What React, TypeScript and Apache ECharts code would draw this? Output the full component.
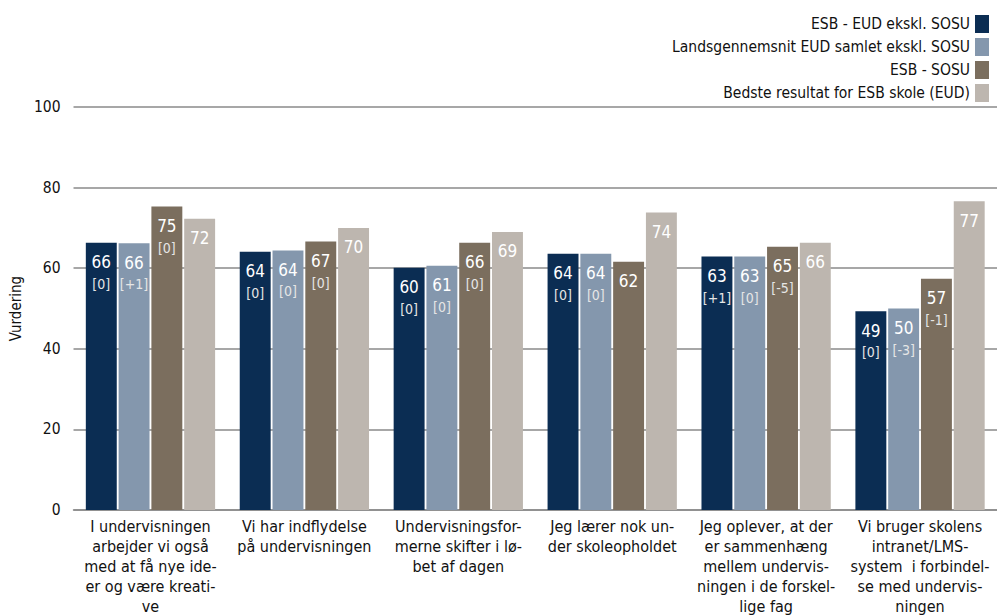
import React, { useEffect, useRef } from "react";
import * as echarts from "echarts";

const categories = [
  "I undervisningen\narbejder vi også\nmed at få nye ide-\ner og være kreati-\nve",
  "Vi har indflydelse\npå undervisningen",
  "Undervisningsfor-\nmerne skifter i lø-\nbet af dagen",
  "Jeg lærer nok un-\nder skoleopholdet",
  "Jeg oplever, at der\ner sammenhæng\nmellem undervis-\nningen i de forskel-\nlige fag",
  "Vi bruger skolens\nintranet/LMS-\nsystem  i forbindel-\nse med undervis-\nningen",
];

const seriesNames = [
  "ESB - EUD ekskl. SOSU",
  "Landsgennemsnit EUD samlet ekskl. SOSU",
  "ESB - SOSU",
  "Bedste resultat for ESB skole (EUD)",
];

const esbEud = [66.3, 64.1, 60.1, 63.6, 62.9, 49.3];
const landsEud = [66.2, 64.4, 60.6, 63.6, 62.9, 50.0];
const esbSosu = [75.3, 66.6, 66.3, 61.6, 65.3, 57.4];
const bedste = [72.3, 70.0, 69.0, 73.8, 66.3, 76.6];

const esbEudDiff = ["[0]", "[0]", "[0]", "[0]", "[+1]", "[0]"];
const landsEudDiff = ["[+1]", "[0]", "[0]", "[0]", "[0]", "[-3]"];
const esbSosuDiff = ["[0]", "[0]", "[0]", "", "[-5]", "[-1]"];
const bedsteDiff = ["", "", "", "", "", ""];

const colors = ["#0b2d53", "#8497ad", "#7b6e5e", "#bdb6af"];

const yTicks = [0, 20, 40, 60, 80, 100];

const FONT = "'DejaVu Sans Condensed', 'DejaVu Sans', sans-serif";

export default function App() {
  const ref = useRef<HTMLDivElement>(null);
  useEffect(() => {
    if (!ref.current) return;
    const chart = echarts.init(ref.current, null, { renderer: "svg" });
    const values = [esbEud, landsEud, esbSosu, bedste];
    const diffs = [esbEudDiff, landsEudDiff, esbSosuDiff, bedsteDiff];
    chart.setOption({
      animation: false,
      textStyle: { fontFamily: FONT },
      legend: {
        orient: "vertical",
        right: 3,
        top: 10,
        align: "right",
        itemWidth: 14,
        itemHeight: 18,
        itemGap: 5,
        itemTextGap: 9,
        icon: "rect",
        textStyle: { fontSize: 15.5, color: "#111", fontFamily: FONT },
        data: seriesNames,
      },
      grid: { left: 68, right: 0, top: 107, bottom: 105, containLabel: false },
      xAxis: {
        type: "category",
        data: categories,
        axisLine: { show: true, lineStyle: { color: "#8a8a8a", width: 1.5 } },
        axisTick: { show: false },
        axisLabel: {
          interval: 0,
          fontSize: 16,
          lineHeight: 20,
          color: "#111",
          margin: 6,
          fontFamily: FONT,
        },
      },
      yAxis: {
        type: "value",
        min: yTicks[0],
        max: yTicks[yTicks.length - 1],
        interval: 20,
        name: "Vurdering",
        nameLocation: "middle",
        nameGap: 50,
        nameTextStyle: { fontSize: 15, color: "#111", fontFamily: FONT },
        axisLabel: { fontSize: 15.5, color: "#111", margin: 13, fontFamily: FONT },
        axisLine: { show: false },
        axisTick: { show: false },
        splitLine: { lineStyle: { color: "#8a8a8a", width: 1.5 } },
      },
      series: seriesNames.map((name, si) => ({
        name,
        type: "bar",
        data: values[si],
        barGap: "6%",
        barCategoryGap: "16%",
        itemStyle: { color: colors[si] },
        label: {
          show: true,
          position: "insideTop",
          distance: 8,
          formatter: (p: any) => {
            const d = diffs[si][p.dataIndex];
            const v = Math.round(p.value);
            return d ? `{a|${v}}\n{b|${d}}` : `{a|${v}}`;
          },
          rich: {
            a: { fontSize: 17, lineHeight: 23, color: "#ffffff", fontFamily: FONT },
            b: { fontSize: 14, lineHeight: 20, color: "#e6e6e6", fontFamily: FONT },
          },
        },
      })),
    });
    return () => chart.dispose();
  }, []);
  return <div ref={ref} style={{ width: 997, height: 616, position: "absolute", left: 0, top: 0 }} />;
}
